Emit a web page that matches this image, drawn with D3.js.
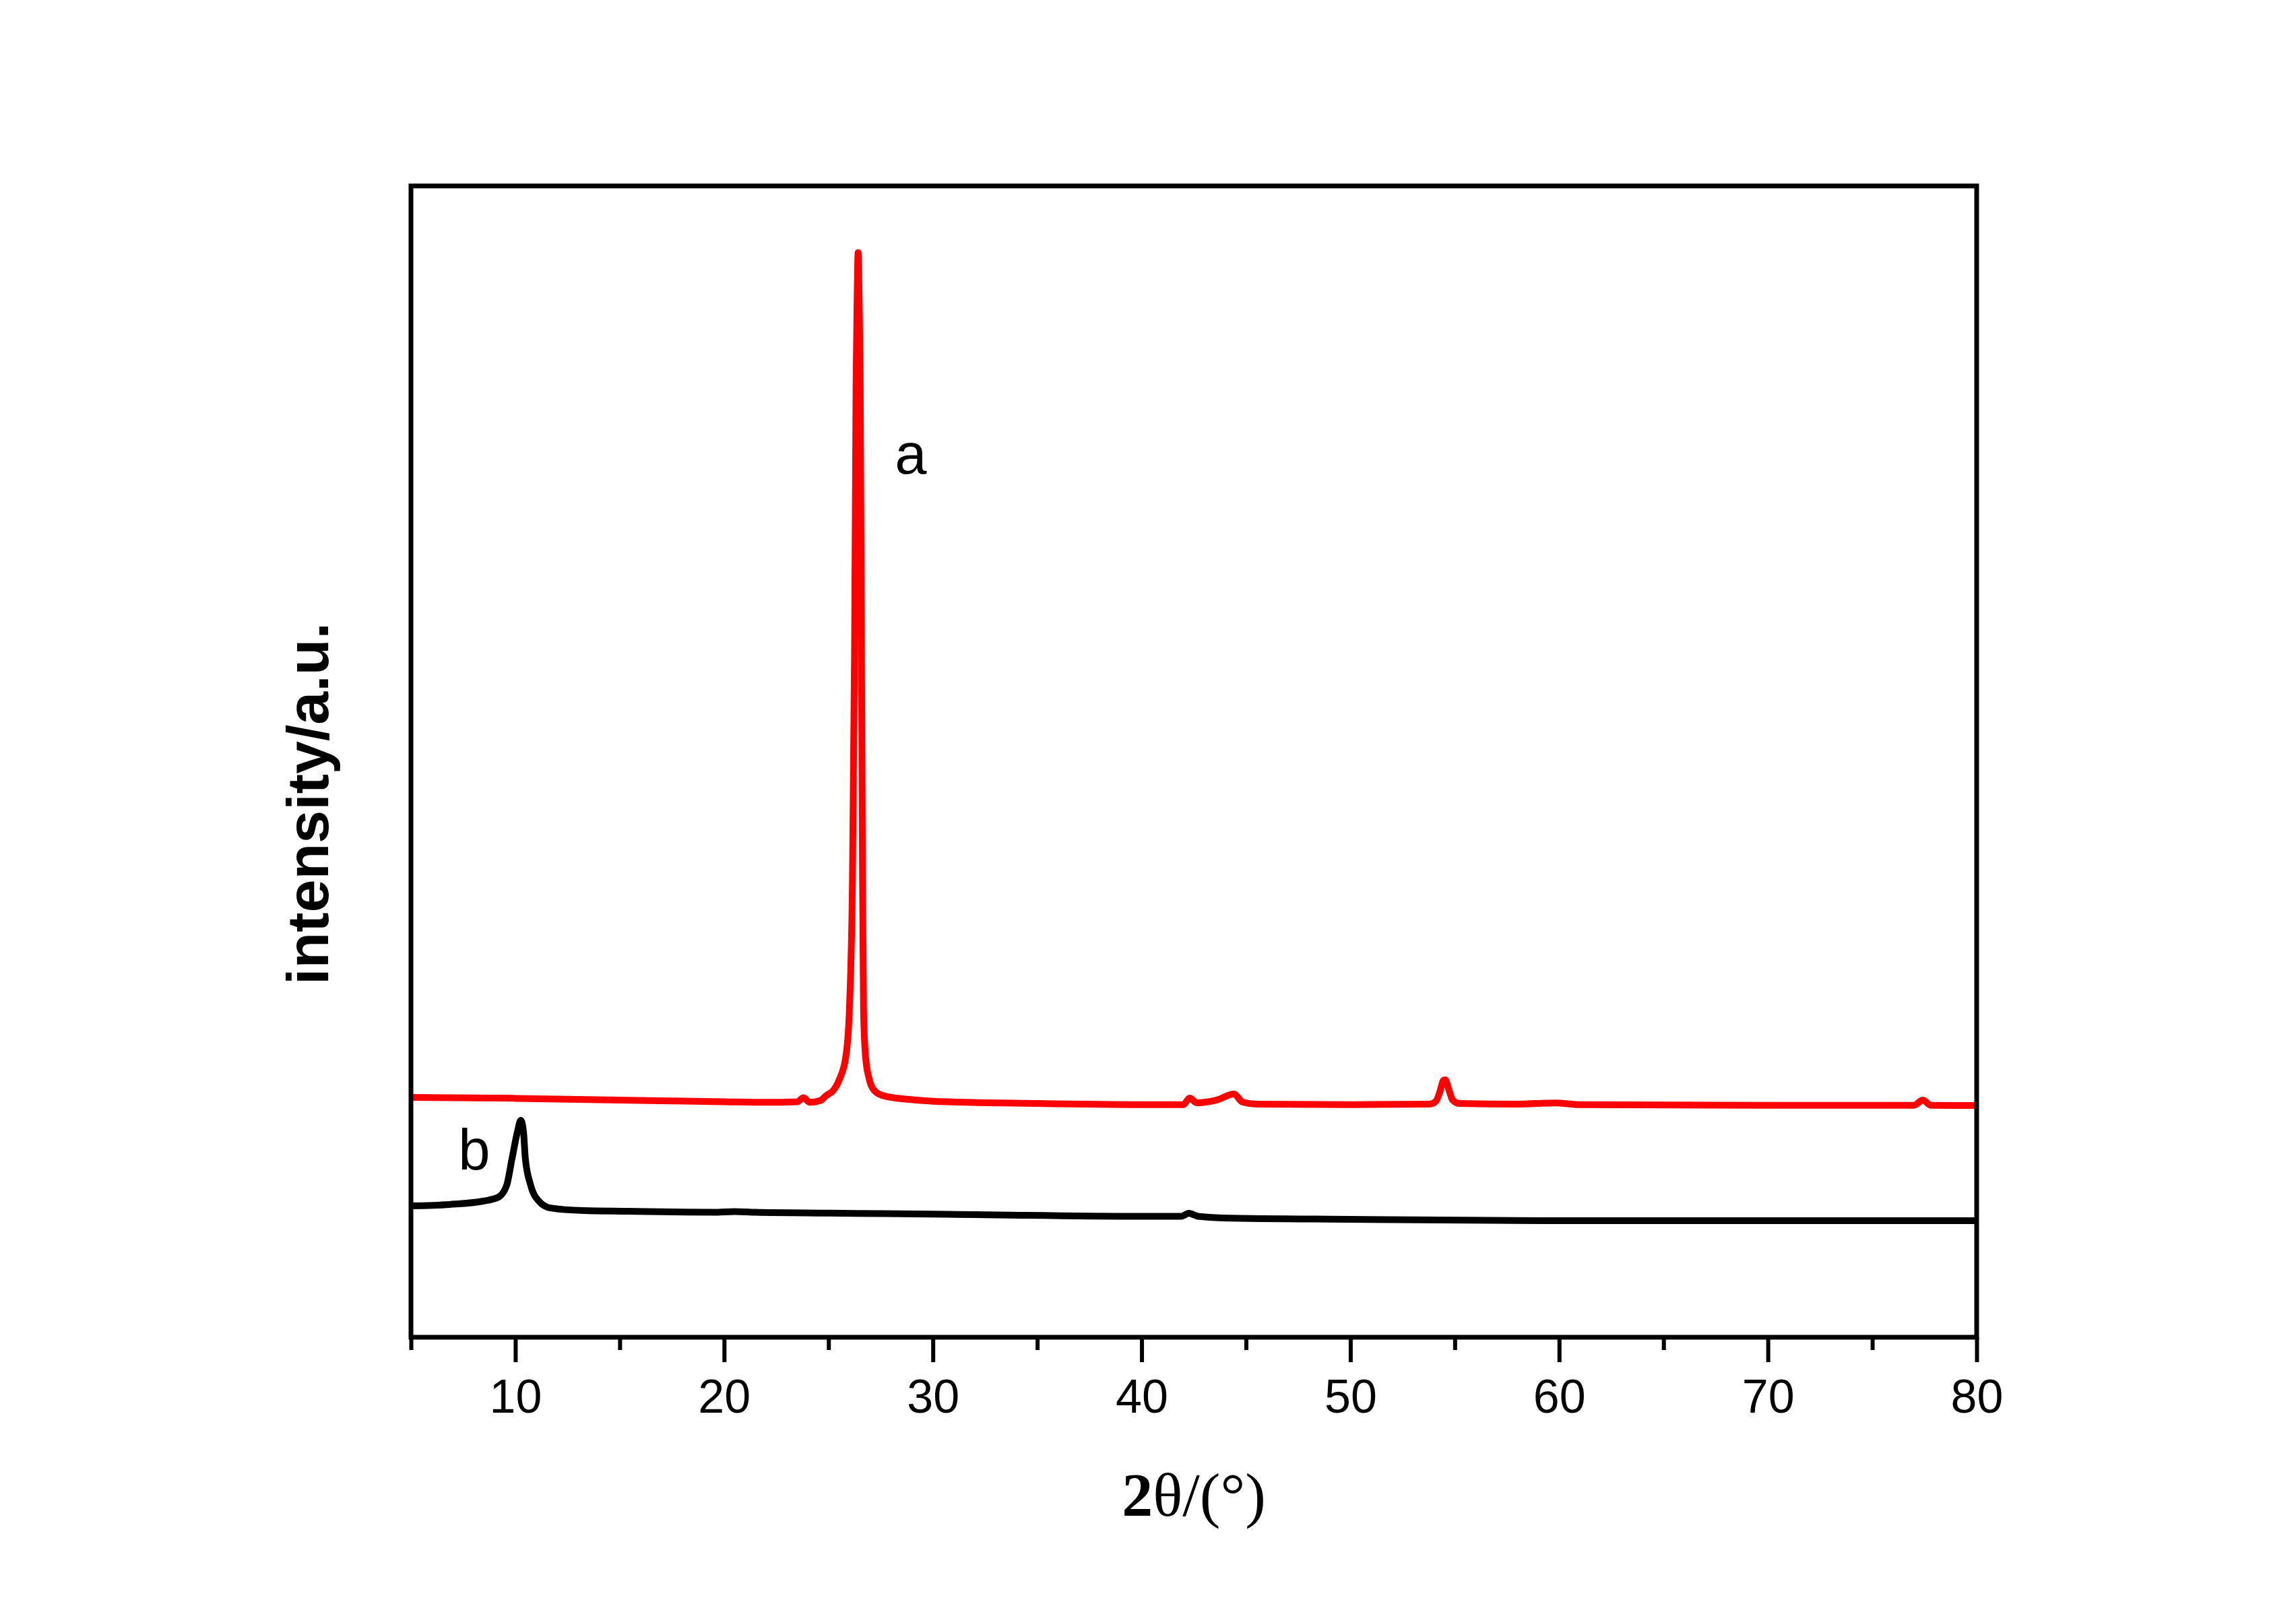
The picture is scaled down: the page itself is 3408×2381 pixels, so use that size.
<!DOCTYPE html>
<html>
<head>
<meta charset="utf-8">
<script src="https://cdn.jsdelivr.net/npm/d3@7"></script>
<style>
  body { margin: 0; background: #fff; }
  .tick text { font-family: "Liberation Sans", Arial, sans-serif; }
</style>
</head>
<body>
<div class="chart"></div>
<script>
// XRD patterns (intensity in arbitrary units, 0-100 over the plot height)
const redX = [5, 10, 15, 20, 22, 23.5, 23.8, 24.1, 24.6, 24.9, 25.26, 25.55, 25.84, 26.0, 26.15, 26.25, 26.32, 26.37, 26.42,
  26.47, 26.52, 26.58, 26.63, 26.68, 26.77, 26.94, 27.16, 27.58, 28.87, 30, 35, 40, 42.0, 42.3, 42.65, 43.6, 44.42, 44.84,
  45.5, 50, 53.8, 54.1, 54.3, 54.45, 54.55, 54.7, 54.9, 55.2, 58, 59.8, 61, 70, 77, 77.42, 77.8, 80];
const redY = [20.83, 20.75, 20.6, 20.45, 20.4, 20.45, 20.8, 20.4, 20.55, 21.0, 21.5, 22.5, 24.5, 28.4, 40, 60, 82.6, 90, 94.2,
  90, 82.6, 60, 40, 28.4, 24.5, 22.5, 21.5, 21.0, 20.65, 20.5, 20.3, 20.2, 20.2, 20.77, 20.36, 20.6, 21.12, 20.42,
  20.25, 20.2, 20.25, 20.5, 21.4, 22.3, 22.35, 21.6, 20.6, 20.3, 20.25, 20.35, 20.2, 20.15, 20.15, 20.6, 20.15, 20.13];

const blackX = [5, 6.84, 8.45, 9.19, 9.58, 9.84, 10.1, 10.26, 10.39, 10.48, 10.74, 11.13, 11.68, 13.29, 15.4, 17.6, 19.5, 20.5,
  21.5, 25, 30, 40, 41.9, 42.26, 42.7, 43.9, 50, 59.5, 80];
const blackY = [11.41, 11.53, 11.82, 12.17, 13.17, 15.5, 17.85, 18.84, 17.85, 15.5, 13.17, 11.82, 11.23, 11.0, 10.94, 10.88, 10.86, 10.92,
  10.85, 10.78, 10.7, 10.5, 10.5, 10.77, 10.5, 10.36, 10.24, 10.12, 10.12];

const majorTicks = [10, 20, 30, 40, 50, 60, 70, 80];
const minorTicks = [5, 15, 25, 35, 45, 55, 65, 75];

const w = 3408, h = 2381;
const plot = { left: 610, right: 2934, top: 276, bottom: 1985 };

const svg = d3.select(".chart").append("svg")
    .attr("width", w)
    .attr("height", h)
    .style("display", "block");

svg.append("rect").attr("width", w).attr("height", h).attr("fill", "#fff");

const x = d3.scaleLinear().domain([5, 80]).range([plot.left, plot.right]);
const y = d3.scaleLinear().domain([0, 100]).range([plot.bottom, plot.top]);

const line = d3.line()
    .x(d => x(d[0]))
    .y(d => y(d[1]))
    .curve(d3.curveMonotoneX);

svg.append("path")
    .datum(redX.map((v, i) => [v, redY[i]]))
    .attr("d", line)
    .attr("fill", "none")
    .attr("stroke", "#ff0000")
    .attr("stroke-width", 10)
    .attr("stroke-linejoin", "round");

svg.append("path")
    .datum(blackX.map((v, i) => [v, blackY[i]]))
    .attr("d", line)
    .attr("fill", "none")
    .attr("stroke", "#000")
    .attr("stroke-width", 10)
    .attr("stroke-linejoin", "round");

// minor ticks
svg.append("g")
    .attr("transform", `translate(0, ${plot.bottom})`)
    .call(d3.axisBottom(x).tickValues(minorTicks).tickSize(19).tickFormat(""))
    .call(g => g.select(".domain").remove())
    .call(g => g.selectAll("line").attr("stroke", "#000").attr("stroke-width", 6));

// major ticks with labels
svg.append("g")
    .attr("transform", `translate(0, ${plot.bottom})`)
    .call(d3.axisBottom(x).tickValues(majorTicks).tickSize(37).tickPadding(25).tickFormat(d3.format("d")))
    .call(g => g.select(".domain").remove())
    .call(g => g.selectAll("line").attr("stroke", "#000").attr("stroke-width", 6))
    .call(g => g.selectAll("text").attr("fill", "#000").style("font-size", "70px"));

// frame
svg.append("rect")
    .attr("x", plot.left)
    .attr("y", plot.top)
    .attr("width", plot.right - plot.left)
    .attr("height", plot.bottom - plot.top)
    .attr("fill", "none")
    .attr("stroke", "#000")
    .attr("stroke-width", 7);

// axis titles
const xt = svg.append("text")
    .attr("x", (plot.left + plot.right) / 2)
    .attr("y", 2250)
    .attr("text-anchor", "middle")
    .style("font-family", "'Liberation Serif', 'Times New Roman', serif")
    .style("font-size", "92px");
xt.append("tspan").style("font-weight", "bold").text("2");
xt.append("tspan").text("θ/(°)");

svg.append("text")
    .attr("transform", "translate(487, 1193) rotate(-90)")
    .attr("text-anchor", "middle")
    .style("font-family", "'Liberation Sans', Arial, sans-serif")
    .style("font-weight", "bold")
    .style("font-size", "88px")
    .text("intensity/a.u.");

// curve labels
svg.append("text")
    .attr("x", 1352).attr("y", 703)
    .attr("text-anchor", "middle")
    .style("font-family", "'Liberation Sans', Arial, sans-serif")
    .style("font-size", "85px")
    .text("a");

svg.append("text")
    .attr("x", 704).attr("y", 1736)
    .attr("text-anchor", "middle")
    .style("font-family", "'Liberation Sans', Arial, sans-serif")
    .style("font-size", "85px")
    .text("b");
</script>
</body>
</html>
